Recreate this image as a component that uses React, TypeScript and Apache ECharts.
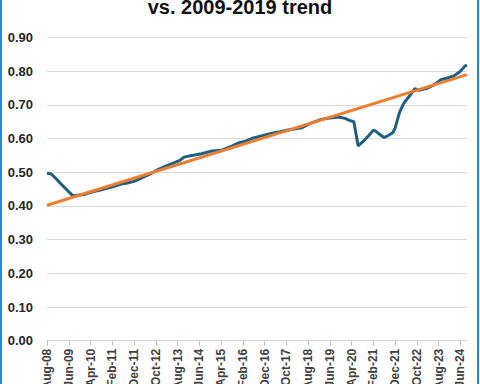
import React, { useEffect, useRef } from "react";
import * as echarts from "echarts";

const MONTH_NAMES = ["Jan", "Feb", "Mar", "Apr", "May", "Jun", "Jul", "Aug", "Sep", "Oct", "Nov", "Dec"];
const categories: string[] = [];
for (let k = 0; k < 194; k++) {
  const m = (7 + k) % 12;
  const y = 8 + Math.floor((7 + k) / 12);
  categories.push(`${MONTH_NAMES[m]}-${String(y).padStart(2, "0")}`);
}

const rateMonths = [
  "Aug-08", "Oct-08", "Dec-08", "Feb-09", "Apr-09", "Jun-09", "Aug-09", "Oct-09", "Jan-10", "May-10",
  "Sep-10", "Dec-10", "Mar-11", "Jun-11", "Sep-11", "Dec-11", "Mar-12", "May-12", "Aug-12", "Nov-12",
  "Feb-13", "Jun-13", "Sep-13", "Nov-13", "Feb-14", "Jul-14", "Nov-14", "Apr-15", "Aug-15", "Dec-15",
  "Mar-16", "Jun-16", "Oct-16", "Mar-17", "Jul-17", "Dec-17", "May-18", "Sep-18", "Feb-19", "May-19",
  "Oct-19", "Jan-20", "Mar-20", "May-20", "Jul-20", "Sep-20", "Dec-20", "Feb-21", "Mar-21", "Jun-21",
  "Jul-21", "Sep-21", "Nov-21", "Dec-21", "Feb-22", "Apr-22", "Jul-22", "Sep-22", "Nov-22", "Mar-23",
  "Jun-23", "Sep-23", "Dec-23", "Mar-24", "Jun-24", "Aug-24", "Sep-24",
];
const rateValues = [
  0.497, 0.495, 0.482, 0.468, 0.455, 0.442, 0.43, 0.432, 0.434, 0.442,
  0.448, 0.453, 0.458, 0.465, 0.468, 0.473, 0.482, 0.488, 0.497, 0.508,
  0.517, 0.527, 0.535, 0.545, 0.549, 0.555, 0.562, 0.565, 0.575, 0.587,
  0.592, 0.6, 0.607, 0.615, 0.62, 0.627, 0.632, 0.645, 0.657, 0.66,
  0.664, 0.66, 0.654, 0.65, 0.578, 0.59, 0.61, 0.625, 0.622, 0.607,
  0.603, 0.61, 0.618, 0.632, 0.678, 0.705, 0.73, 0.748, 0.743, 0.75,
  0.76, 0.775, 0.78, 0.786, 0.8, 0.815, 0.818,
];

const trendMonths = ["Aug-08", "Sep-24"];
const trendValues = [0.402, 0.79];

const titleText = "vs. 2009-2019 trend";

export default function App() {
  const ref = useRef<HTMLDivElement>(null);
  useEffect(() => {
    if (!ref.current) return;
    const chart = echarts.init(ref.current, null, { renderer: "svg" });
    chart.setOption({
      animation: false,
      backgroundColor: "#ffffff",
      title: {
        text: titleText,
        left: "center",
        top: -8,
        textStyle: {
          fontFamily: "Liberation Sans",
          fontWeight: "bold",
          fontSize: 20,
          color: "#111111",
        },
      },
      graphic: [
        {
          type: "rect",
          shape: { x: 1, y: -10, width: 477, height: 410 },
          style: { fill: "none", stroke: "#2389db", lineWidth: 2 },
          silent: true,
        },
      ],
      grid: {
        left: 47,
        right: 13,
        top: 37.5,
        bottom: 43.3,
        containLabel: false,
        outerBoundsMode: "none",
      },
      xAxis: {
        type: "category",
        data: categories,
        boundaryGap: false,
        axisLine: { show: true, lineStyle: { color: "#d9d9d9", width: 1 } },
        axisTick: { show: true, interval: 9, length: 5, lineStyle: { color: "#bfbfbf" } },
        axisLabel: {
          interval: 9,
          rotate: 90,
          margin: 8,
          fontFamily: "Liberation Sans",
          fontWeight: "bold",
          fontSize: 12,
          color: "#404040",
        },
        splitLine: { show: false },
      },
      yAxis: {
        type: "value",
        min: 0,
        max: 0.9,
        interval: 0.1,
        axisLine: { show: false },
        axisTick: { show: false },
        axisLabel: {
          formatter: (v: number) => v.toFixed(2),
          margin: 14,
          fontFamily: "Liberation Sans",
          fontWeight: "bold",
          fontSize: 13,
          color: "#262626",
        },
        splitLine: { lineStyle: { color: "#d9d9d9", width: 1 } },
      },
      series: [
        {
          type: "line",
          data: rateMonths.map((m, i) => [m, rateValues[i]]),
          showSymbol: false,
          lineStyle: { color: "#1f5f82", width: 3 },
          itemStyle: { color: "#1f5f82" },
        },
        {
          type: "line",
          data: trendMonths.map((m, i) => [m, trendValues[i]]),
          showSymbol: false,
          lineStyle: { color: "#ed7d31", width: 3 },
          itemStyle: { color: "#ed7d31" },
        },
      ],
    });
    return () => chart.dispose();
  }, []);
  return (
    <div
      ref={ref}
      style={{ position: "fixed", left: 0, top: 0, width: 480, height: 384 }}
    />
  );
}
